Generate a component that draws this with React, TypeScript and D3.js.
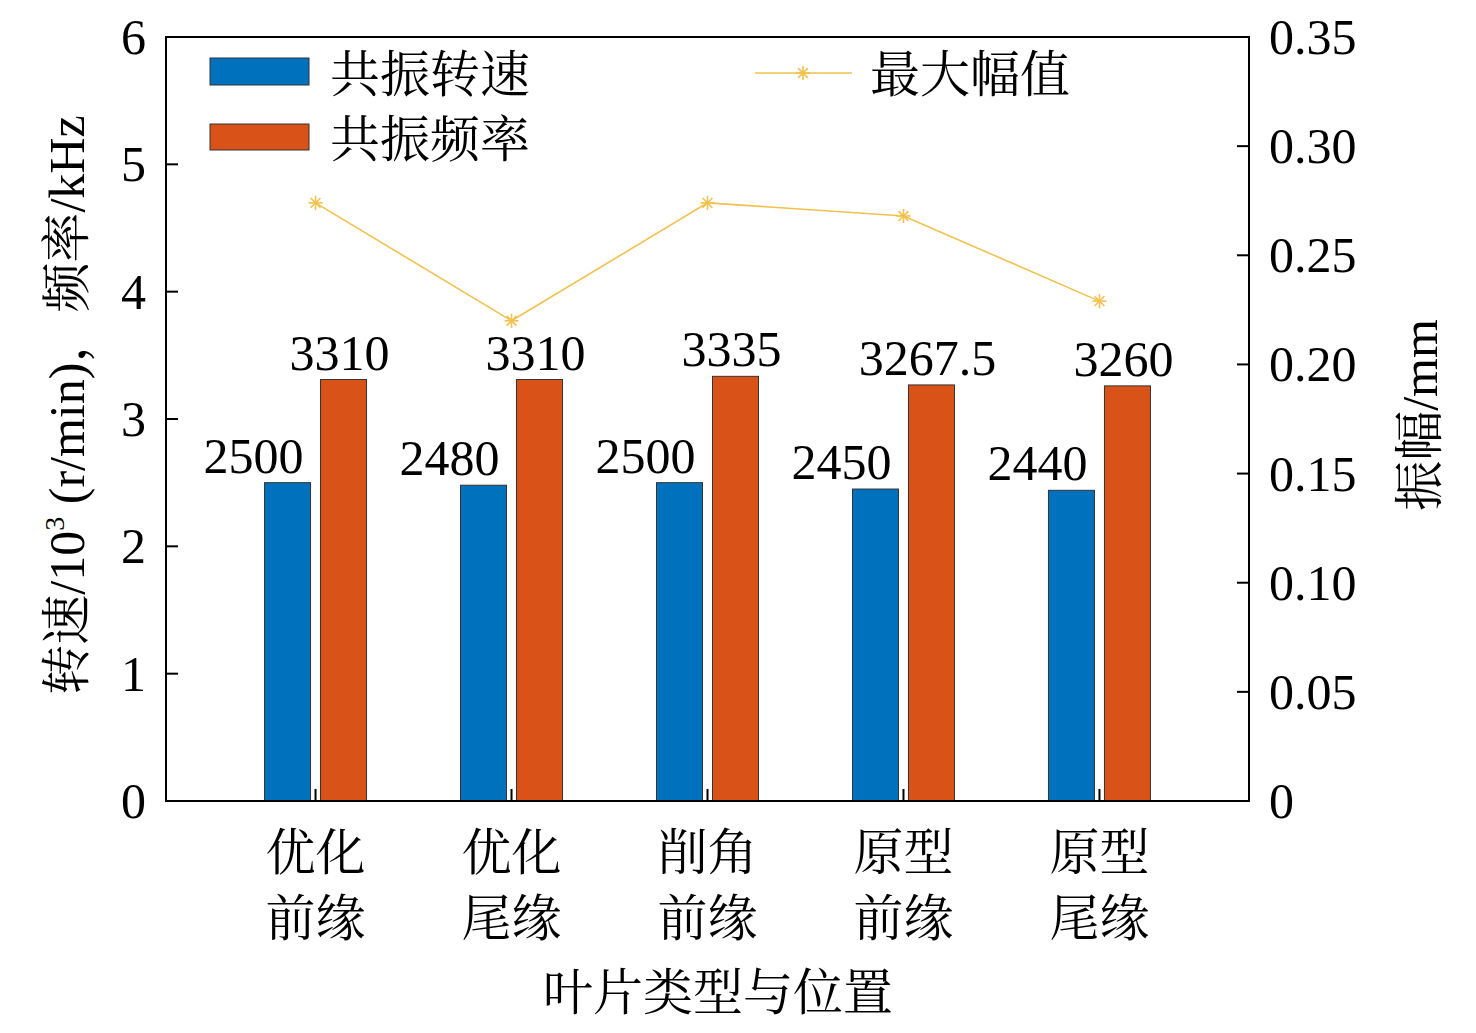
import * as d3 from "d3"

const categories = ["优化\n前缘", "优化\n尾缘", "削角\n前缘", "原型\n前缘", "原型\n尾缘"]
const speedValues = [2500, 2480, 2500, 2450, 2440]
const freqValues = [3310, 3310, 3335, 3267.5, 3260]
const ampValues = [0.274, 0.22, 0.274, 0.268, 0.229]
const leftTicks = [0, 1, 2, 3, 4, 5, 6]
const rightTicks = [0, 0.05, 0.1, 0.15, 0.2, 0.25, 0.3, 0.35]

const W = 1476, H = 1033
const L = 166, R = 1249, T = 37, B = 801
const serif = "'Liberation Serif', 'Times New Roman', serif"
const cjk = "'Noto Serif CJK SC', 'Noto Sans CJK SC', serif"

function Star({ x, y, c }: { x: number; y: number; c: string }) {
  const r = 7
  return (
    <g stroke={c} strokeWidth={1.6}>
      <line x1={x - r} y1={y} x2={x + r} y2={y} />
      <line x1={x} y1={y - r} x2={x} y2={y + r} />
      <line x1={x - r * 0.7} y1={y - r * 0.7} x2={x + r * 0.7} y2={y + r * 0.7} />
      <line x1={x - r * 0.7} y1={y + r * 0.7} x2={x + r * 0.7} y2={y - r * 0.7} />
    </g>
  )
}

export default function App() {
  const x = d3.scalePoint<number>().domain(d3.range(categories.length)).range([L, R]).padding(0.763)
  const y = d3.scaleLinear().domain([0, 6]).range([B, T])
  const y2 = d3.scaleLinear().domain([0, 0.35]).range([B, T])
  const bw = 46, off = 28
  const blue = "#0072BD", orange = "#D95319", yel = "#F2C14E"
  const line = d3.line<number>().x((_, i) => x(i)!).y((d) => y2(d))

  return (
    <svg width={W} height={H} style={{ position: "absolute", left: 0, top: 0, background: "#fff" }}>
      {speedValues.map((v, i) => (
        <g key={i}>
          <rect x={x(i)! - off - bw / 2} y={y(v / 1000)} width={bw} height={B - y(v / 1000)} fill={blue} stroke="#333" strokeWidth={1} />
          <rect x={x(i)! + off - bw / 2} y={y(freqValues[i] / 1000)} width={bw} height={B - y(freqValues[i] / 1000)} fill={orange} stroke="#333" strokeWidth={1} />
          <text x={x(i)! - off - 34} y={y(v / 1000) - 10} textAnchor="middle" fontFamily={serif} fontSize={50}>{v}</text>
          <text x={x(i)! + off - 4} y={y(freqValues[i] / 1000) - 10} textAnchor="middle" fontFamily={serif} fontSize={50}>{freqValues[i]}</text>
        </g>
      ))}
      <path d={line(ampValues)!} fill="none" stroke={yel} strokeWidth={1.6} />
      {ampValues.map((v, i) => <Star key={i} x={x(i)!} y={y2(v)} c={yel} />)}
      <rect x={L} y={T} width={R - L} height={B - T} fill="none" stroke="#000" strokeWidth={2} />
      {leftTicks.map((t) => (
        <g key={t}>
          <line x1={L} x2={L + 12} y1={y(t)} y2={y(t)} stroke="#000" strokeWidth={2} />
          <text x={L - 20} y={y(t) + 17} textAnchor="end" fontFamily={serif} fontSize={50}>{t}</text>
        </g>
      ))}
      {rightTicks.map((t) => (
        <g key={t}>
          <line x1={R - 12} x2={R} y1={y2(t)} y2={y2(t)} stroke="#000" strokeWidth={2} />
          <text x={R + 20} y={y2(t) + 17} fontFamily={serif} fontSize={50}>{t === 0 ? "0" : t.toFixed(2)}</text>
        </g>
      ))}
      {categories.map((c, i) => (
        <g key={i}>
          <line x1={x(i)!} x2={x(i)!} y1={B} y2={B - 12} stroke="#000" strokeWidth={2} />
          {c.split("\n").map((s, j) => (
            <text key={j} x={x(i)!} y={870 + j * 66} textAnchor="middle" fontFamily={cjk} fontSize={50}>{s}</text>
          ))}
        </g>
      ))}
      <text x={718} y={1010} textAnchor="middle" fontFamily={cjk} fontSize={50}>叶片类型与位置</text>
      <text transform="translate(84,405) rotate(-90)" textAnchor="middle" fontFamily={serif} fontSize={50}>
        <tspan fontFamily={cjk}>转速</tspan>/10<tspan fontSize={28} dy={-20}>3</tspan>
        <tspan dy={20}> (r/min)</tspan><tspan fontFamily={cjk}>，频率</tspan>/kHz
      </text>
      <text transform="translate(1437,415) rotate(-90)" textAnchor="middle" fontFamily={serif} fontSize={50}>
        <tspan fontFamily={cjk}>振幅</tspan>/mm
      </text>
      <rect x={210} y={58} width={99} height={27} fill={blue} stroke="#333" />
      <text x={330} y={92} fontFamily={cjk} fontSize={50}>共振转速</text>
      <rect x={210} y={124} width={99} height={26} fill={orange} stroke="#333" />
      <text x={330} y={157} fontFamily={cjk} fontSize={50}>共振频率</text>
      <line x1={755} x2={852} y1={73} y2={73} stroke={yel} strokeWidth={1.6} />
      <Star x={803} y={73} c={yel} />
      <text x={870} y={92} fontFamily={cjk} fontSize={50}>最大幅值</text>
    </svg>
  )
}
